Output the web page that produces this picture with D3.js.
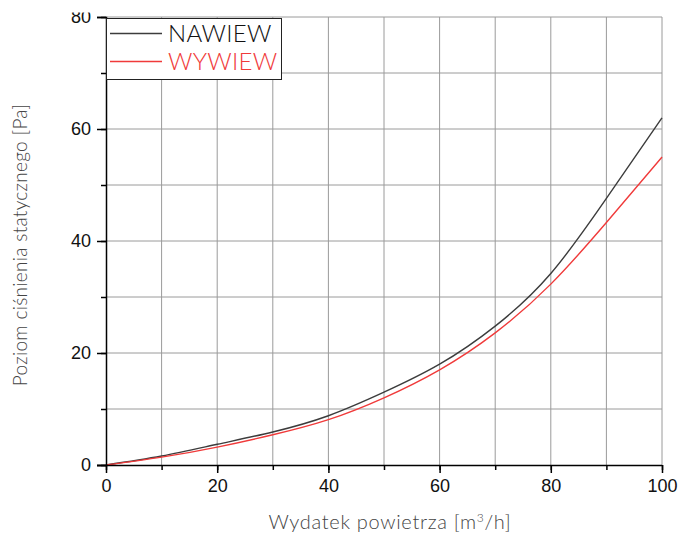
<!DOCTYPE html>
<html><head><meta charset="utf-8">
<script src="https://cdn.jsdelivr.net/npm/d3@7"></script>
<style>body{margin:0;background:#fff}svg{display:block}</style>
</head><body>
<script>
const flow = [0,10,20,30,40,50,60,70,80,90,100];
const nawiew = [0,1.6,3.7,5.9,8.8,13.0,18.0,24.8,34.2,47.6,62.0];
const wywiew = [0,1.4,3.2,5.4,8.1,12.0,17.0,23.6,32.3,43.3,55.0];
const seriesNames = ["NAWIEW","WYWIEW"];
const seriesColors = ["#3c3c3c","#f03a3a"];
const xTicks = [0,20,40,60,80,100];
const yTicks = [0,20,40,60,80];
const xTitle = "Wydatek powietrza [m";
const yTitle = "Poziom ciśnienia statycznego [Pa]";

const W=681,H=542;
const svg=d3.select("body").append("svg").attr("width",W).attr("height",H);
const x=d3.scaleLinear().domain([0,100]).range([106,662]);
const y=d3.scaleLinear().domain([0,80]).range([465,17]);
const titleFont="'Lato','Open Sans',sans-serif";
const tickFont="'Liberation Sans',Arial,sans-serif";

// grid
const g=svg.append("g");
g.selectAll(".vg").data(d3.range(10,101,10)).join("line")
 .attr("x1",d=>x(d)).attr("x2",d=>x(d)).attr("y1",y(0)).attr("y2",y(80))
 .attr("stroke","#9a9a9a").attr("stroke-width",1);
g.selectAll(".hg").data(d3.range(10,81,10)).join("line")
 .attr("x1",x(0)).attr("x2",x(100)).attr("y1",d=>y(d)).attr("y2",d=>y(d))
 .attr("stroke","#9a9a9a").attr("stroke-width",1);

// curves
const series=[nawiew,wywiew];
series.forEach((vals,i)=>{
  const line=d3.line().x((d,j)=>x(flow[j])).y(d=>y(d)).curve(d3.curveNatural);
  svg.append("path").datum(vals).attr("d",line).attr("fill","none")
   .attr("stroke",seriesColors[i]).attr("stroke-width",1.4);
});

// axes
const xa=svg.append("g").attr("transform",`translate(0,${y(0)})`);
xa.call(d3.axisBottom(x).tickValues(d3.range(0,101,10)).tickSize(5).tickFormat(""));
const xa2=svg.append("g").attr("transform",`translate(0,${y(0)})`);
xa2.call(d3.axisBottom(x).tickValues(xTicks).tickSize(8).tickPadding(6).tickFormat(d3.format("d")));
const ya=svg.append("g").attr("transform",`translate(${x(0)},0)`);
ya.call(d3.axisLeft(y).tickValues(d3.range(0,81,10)).tickSize(5).tickFormat(""));
const ya2=svg.append("g").attr("transform",`translate(${x(0)},0)`);
ya2.call(d3.axisLeft(y).tickValues(yTicks).tickSize(9).tickPadding(6).tickFormat(d3.format("d")));
[xa,xa2,ya,ya2].forEach(a=>{
  a.selectAll("path,line").attr("stroke","#000").attr("stroke-width",1.5);
  a.selectAll("text").attr("font-family",tickFont).attr("font-size",18).attr("fill","#111");
});
xa.select("path").remove(); ya.select("path").remove();
xa2.select("path").attr("d",`M${x(0)-9},0.5H${x(100)}`);

// top crop of the original picture
svg.append("rect").attr("x",0).attr("y",0).attr("width",W).attr("height",12.5).attr("fill","#fff");

// axis titles
const xt=svg.append("text").attr("x",390).attr("y",529).attr("text-anchor","middle")
 .attr("font-family",titleFont).attr("font-size",20).attr("letter-spacing",0.7)
 .attr("fill","#444").attr("font-weight",300);
xt.append("tspan").text(xTitle);
xt.append("tspan").text("3").attr("font-size",12).attr("dy",-7);
xt.append("tspan").text("/h]").attr("dy",7);
svg.append("text").attr("transform","translate(27,245) rotate(-90)").attr("text-anchor","middle")
 .attr("font-family",titleFont).attr("font-size",19).attr("letter-spacing",0.3)
 .attr("fill","#444").attr("font-weight",300).text(yTitle);

// legend
const lg=svg.append("g");
lg.append("rect").attr("x",106.5).attr("y",18.5).attr("width",175).attr("height",61)
 .attr("fill","#fff").attr("stroke","#222").attr("stroke-width",1);
seriesNames.forEach((n,i)=>{
  const yy=[33.5,61.5][i];
  lg.append("line").attr("x1",110).attr("x2",162).attr("y1",yy).attr("y2",yy)
   .attr("stroke",seriesColors[i]).attr("stroke-width",1.4);
  lg.append("text").attr("x",168).attr("y",yy+8).attr("font-family",titleFont)
   .attr("font-size",24).attr("letter-spacing",0.3).attr("fill",i?"#f03a3a":"#111")
   .attr("font-weight",300).text(n);
});
</script>
</body></html>
